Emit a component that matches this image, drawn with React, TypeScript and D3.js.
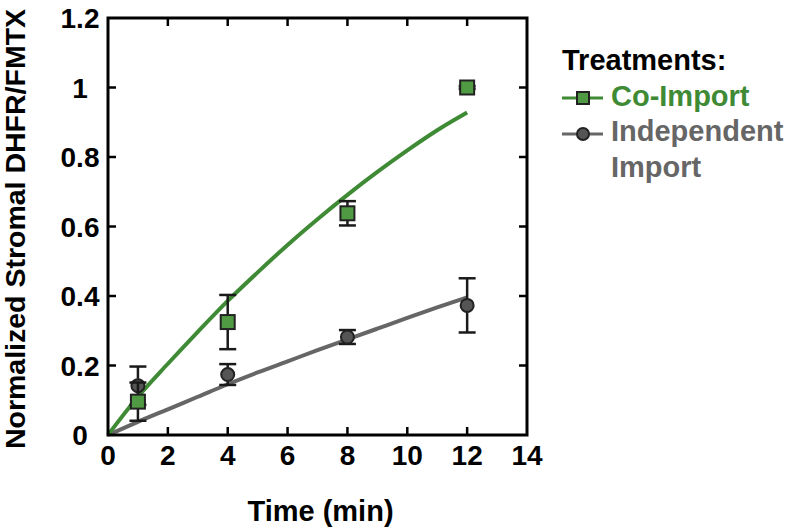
import * as d3 from "d3";

const W = 789;
const H = 527;
const M = { left: 108, right: 262, top: 18, bottom: 92 };

const xTicks = [0, 2, 4, 6, 8, 10, 12, 14];
const yTicks = [0, 0.2, 0.4, 0.6, 0.8, 1, 1.2];
const yTickLabels = ["0", "0.2", "0.4", "0.6", "0.8", "1", "1.2"];

// measured points
const times = [1, 4, 8, 12];
const coImport = [0.096, 0.325, 0.638, 1.0];
const coImportErr = [0.055, 0.078, 0.035, 0.004];
const indep = [0.142, 0.174, 0.282, 0.373];
const indepErr = [0.055, 0.03, 0.02, 0.078];

// fitted curves
const fitTimes = [0, 1, 2, 3, 4, 5, 6, 7, 8, 9, 10, 11, 12];
const coImportFit = [0, 0.11, 0.205, 0.297, 0.386, 0.468, 0.547, 0.621, 0.691, 0.757, 0.819, 0.877, 0.928];
const indepFit = [0, 0.038, 0.074, 0.11, 0.146, 0.18, 0.212, 0.244, 0.275, 0.306, 0.337, 0.367, 0.396];

const GREEN = "#3f8a34";
const GREEN_FILL = "#4f9a42";
const GRAY = "#666666";
const GRAY_FILL = "#555555";
const FONT = "'Liberation Sans', Arial, sans-serif";

export default function App() {
  const x = d3.scaleLinear().domain([0, 14]).range([M.left, W - M.right]);
  const y = d3.scaleLinear().domain([0, 1.2]).range([H - M.bottom, M.top]);
  const [x0, x1] = x.range();
  const [y0, y1] = y.range();

  const line = d3
    .line<number>()
    .x((_, i) => x(fitTimes[i]))
    .curve(d3.curveMonotoneX);

  const greenPath = line.y((d) => y(d))(coImportFit) as string;
  const grayPath = line.y((d) => y(d))(indepFit) as string;

  const errBars = (vals: number[], errs: number[]) =>
    times.map((t, i) => {
      const cx = x(t);
      const top = y(vals[i] + errs[i]);
      const bot = y(vals[i] - errs[i]);
      return (
        <g key={i} stroke="#1a1a1a" strokeWidth={2.5}>
          <line x1={cx} x2={cx} y1={top} y2={bot} />
          <line x1={cx - 8.5} x2={cx + 8.5} y1={top} y2={top} />
          <line x1={cx - 8.5} x2={cx + 8.5} y1={bot} y2={bot} />
        </g>
      );
    });

  return (
    <svg width={W} height={H} style={{ position: "absolute", left: 0, top: 0, background: "#fff" }} fontFamily={FONT}>
      {/* fit lines */}
      <path d={grayPath} fill="none" stroke={GRAY} strokeWidth={4} />
      <path d={greenPath} fill="none" stroke={GREEN} strokeWidth={4} />

      {/* independent import */}
      {errBars(indep, indepErr)}
      {times.map((t, i) => (
        <circle key={i} cx={x(t)} cy={y(indep[i])} r={6.5} fill={GRAY_FILL} stroke="#222" strokeWidth={2} />
      ))}

      {/* co-import */}
      {errBars(coImport, coImportErr)}
      {times.map((t, i) => (
        <rect key={i} x={x(t) - 7} y={y(coImport[i]) - 7} width={14} height={14} fill={GREEN_FILL} stroke="#222" strokeWidth={2} />
      ))}

      {/* frame */}
      <rect x={x0} y={y1} width={x1 - x0} height={y0 - y1} fill="none" stroke="#000" strokeWidth={3} />

      {/* ticks (inward, all sides) */}
      {xTicks.slice(1, -1).map((t) => (
        <g key={t} stroke="#000" strokeWidth={2.5}>
          <line x1={x(t)} x2={x(t)} y1={y0} y2={y0 - 8} />
          <line x1={x(t)} x2={x(t)} y1={y1} y2={y1 + 8} />
        </g>
      ))}
      {yTicks.slice(1, -1).map((t) => (
        <g key={t} stroke="#000" strokeWidth={2.5}>
          <line x1={x0} x2={x0 + 8} y1={y(t)} y2={y(t)} />
          <line x1={x1} x2={x1 - 8} y1={y(t)} y2={y(t)} />
        </g>
      ))}

      {/* tick labels */}
      {xTicks.map((t) => (
        <text key={t} x={x(t)} y={y0 + 30} textAnchor="middle" fontSize={28} fontWeight="bold">
          {t}
        </text>
      ))}
      {yTicks.map((t, i) => (
        <text key={t} x={80} y={y(t) + 10} textAnchor="middle" fontSize={28} fontWeight="bold">
          {yTickLabels[i]}
        </text>
      ))}

      {/* axis titles */}
      <text x={(x0 + x1) / 2 + 3} y={521} textAnchor="middle" fontSize={29} fontWeight="bold">
        Time (min)
      </text>
      <text
        transform={`translate(25, 229) rotate(-90)`}
        textAnchor="middle"
        fontSize={28.5}
        fontWeight="bold"
      >
        Normalized Stromal DHFR/FMTX
      </text>

      {/* legend */}
      <g fontSize={29} fontWeight="bold">
        <text x={562} y={70} fill="#000">Treatments:</text>
        <line x1={562} x2={603} y1={98} y2={98} stroke={GREEN} strokeWidth={3} />
        <rect x={577} y={92} width={12} height={12} fill={GREEN_FILL} stroke="#222" strokeWidth={2} />
        <text x={611} y={106} fill={GREEN}>Co-Import</text>
        <line x1={562} x2={603} y1={134} y2={134} stroke={GRAY} strokeWidth={3} />
        <circle cx={583} cy={134} r={6} fill={GRAY_FILL} stroke="#222" strokeWidth={2} />
        <text x={611} y={141} fill={GRAY}>Independent</text>
        <text x={611} y={177} fill={GRAY}>Import</text>
      </g>
    </svg>
  );
}
